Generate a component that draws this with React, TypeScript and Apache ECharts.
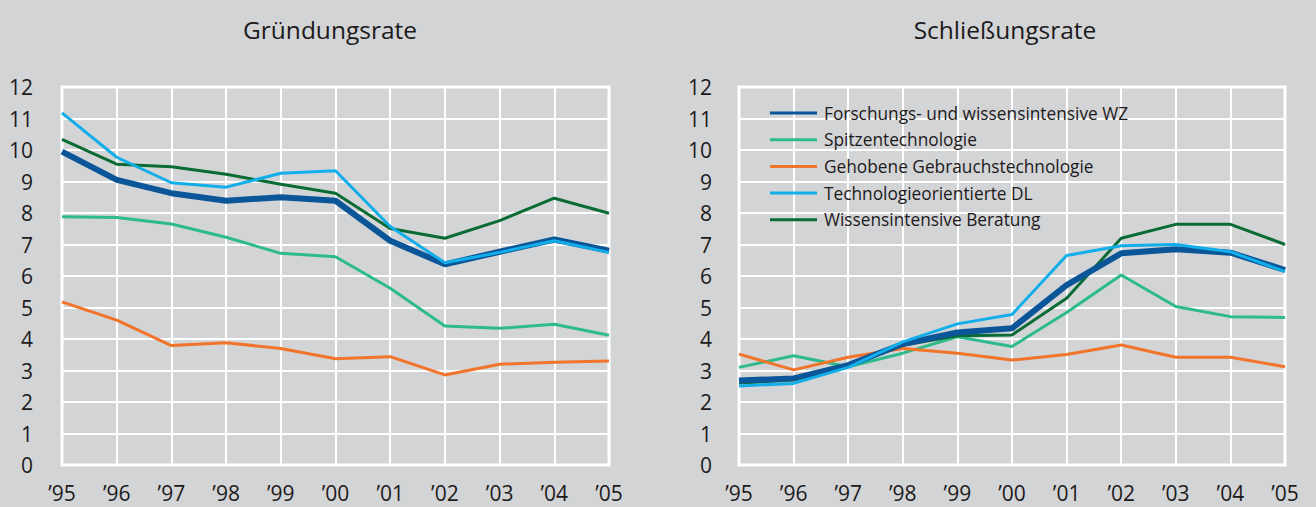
import React, { useEffect, useRef } from "react";
import * as echarts from "echarts";

const years = ["’95", "’96", "’97", "’98", "’99", "’00", "’01", "’02", "’03", "’04", "’05"];
const yTicks = [0, 12, 1]; // min, max, interval

const seriesNames = [
  "Forschungs- und wissensintensive WZ",
  "Spitzentechnologie",
  "Gehobene Gebrauchstechnologie",
  "Technologieorientierte DL",
  "Wissensintensive Beratung",
];

// Gründungsrate
const gFuW = [9.95, 9.05, 8.63, 8.39, 8.5, 8.39, 7.12, 6.37, 6.77, 7.16, 6.8];
const gSpitze = [7.88, 7.86, 7.65, 7.23, 6.72, 6.61, 5.61, 4.41, 4.34, 4.47, 4.12];
const gGehoben = [5.18, 4.6, 3.79, 3.88, 3.7, 3.37, 3.44, 2.86, 3.2, 3.26, 3.3];
const gTechDL = [11.18, 9.77, 8.96, 8.82, 9.26, 9.34, 7.57, 6.42, 6.75, 7.12, 6.75];
const gBeratung = [10.34, 9.55, 9.47, 9.23, 8.91, 8.63, 7.51, 7.2, 7.76, 8.47, 7.99];

// Schließungsrate
const sFuW = [2.68, 2.75, 3.17, 3.84, 4.21, 4.34, 5.71, 6.72, 6.85, 6.74, 6.19];
const sSpitze = [3.1, 3.47, 3.12, 3.55, 4.07, 3.76, 4.84, 6.03, 5.03, 4.71, 4.68];
const sGehoben = [3.52, 3.02, 3.42, 3.7, 3.55, 3.33, 3.51, 3.81, 3.42, 3.42, 3.12];
const sTechDL = [2.51, 2.59, 3.1, 3.91, 4.48, 4.78, 6.65, 6.96, 7.0, 6.77, 6.14];
const sBeratung = [2.6, 2.7, 3.2, 3.8, 4.1, 4.13, 5.29, 7.2, 7.64, 7.64, 7.0];

const colors = ["#0b5699", "#2dbb8b", "#f2742a", "#12aeea", "#0b6b35"];
const widths = [6, 3, 3, 3, 3];
const drawOrder = [1, 2, 4, 0, 3];

const BG = "#d3d4d6";
const TEXT = "#1c1a1b";
const FONT = "'Open Sans', 'Noto Sans', sans-serif";

export default function App() {
  const ref = useRef<HTMLDivElement>(null);
  useEffect(() => {
    if (!ref.current) return;
    const chart = echarts.init(ref.current, undefined, { renderer: "svg" });
    const left = [gFuW, gSpitze, gGehoben, gTechDL, gBeratung];
    const right = [sFuW, sSpitze, sGehoben, sTechDL, sBeratung];
    const series: any[] = [];
    [left, right].forEach((set, gi) => {
      drawOrder.forEach((i) => {
        series.push({
          type: "line",
          name: seriesNames[i],
          data: set[i],
          xAxisIndex: gi,
          yAxisIndex: gi,
          symbol: "none",
          color: colors[i],
          lineStyle: { color: colors[i], width: widths[i] },
          z: 3,
        });
      });
    });
    const xAxis = (gi: number) => ({
      type: "category",
      gridIndex: gi,
      data: years,
      boundaryGap: false,
      axisLine: { show: false },
      axisTick: { show: false },
      splitLine: { show: true, lineStyle: { color: "#ffffff", width: 2 } },
      axisLabel: { color: TEXT, fontSize: 21, fontFamily: FONT, margin: 17, interval: 0 },
    });
    const yAxis = (gi: number, margin: number) => ({
      type: "value",
      gridIndex: gi,
      min: yTicks[0],
      max: yTicks[1],
      interval: yTicks[2],
      axisLine: { show: false },
      axisTick: { show: false },
      splitLine: { show: true, lineStyle: { color: "#ffffff", width: 2 } },
      axisLabel: { color: TEXT, fontSize: 21, fontFamily: FONT, margin },
    });
    chart.setOption({
      animation: false,
      backgroundColor: BG,
      grid: [
        { left: 62, top: 87, width: 547, height: 378, show: true, borderColor: "#ffffff", borderWidth: 3, backgroundColor: "transparent" },
        { left: 739, top: 87, width: 546, height: 378, show: true, borderColor: "#ffffff", borderWidth: 3, backgroundColor: "transparent" },
      ],
      xAxis: [xAxis(0), xAxis(1)],
      yAxis: [yAxis(0, 29), yAxis(1, 27)],
      legend: {
        data: seriesNames,
        orient: "vertical",
        left: 770,
        top: 103,
        padding: 0,
        icon: "rect",
        itemWidth: 47,
        itemHeight: 3,
        itemGap: 6.7,
        textStyle: { color: TEXT, fontSize: 17.3, fontFamily: FONT, lineHeight: 20, padding: [0, 0, 0, 2] },
        selectedMode: false,
      },
      graphic: [
        { type: "text", x: 330, y: 29, style: { text: "Gründungsrate", textAlign: "center", textVerticalAlign: "middle", fontSize: 24.5, fontFamily: FONT, fill: TEXT } },
        { type: "text", x: 1005, y: 29, style: { text: "Schließungsrate", textAlign: "center", textVerticalAlign: "middle", fontSize: 24.5, fontFamily: FONT, fill: TEXT } },
      ],
      series,
    });
    return () => chart.dispose();
  }, []);
  return <div ref={ref} style={{ position: "fixed", left: 0, top: 0, width: 1316, height: 507 }} />;
}
